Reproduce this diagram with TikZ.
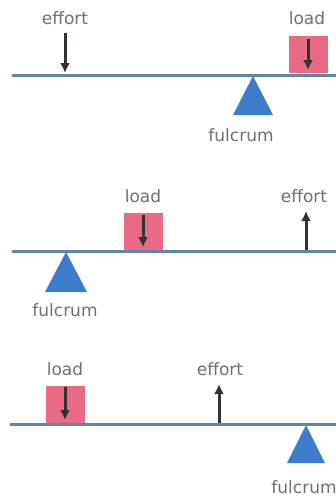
\documentclass[tikz,border=0pt]{standalone}
\usepackage{fontspec}
\setmainfont{DejaVu Sans}
\usetikzlibrary{arrows.meta}
\definecolor{beamc}{HTML}{5F84AE}
\definecolor{loadc}{HTML}{E96A84}
\definecolor{fulc}{HTML}{3D7CCB}
\definecolor{txtc}{HTML}{707070}
\definecolor{arrc}{HTML}{2E3436}
\tikzset{
  lbl/.style={text=txtc, font=\fontsize{17}{19}\selectfont, inner sep=0pt, anchor=center},
  beam/.style={draw=beamc, line width=3pt},
  loadbox/.style={fill=loadc, draw=none, minimum width=39pt, minimum height=37pt, inner sep=0pt},
  force/.style={draw=arrc, line width=3pt, -{Latex[length=10pt,width=10pt]}},
  fulcrumtri/.style={fill=fulc, draw=none}
}
\begin{document}
\begin{tikzpicture}[x=1pt,y=-1pt]
\useasboundingbox (0,0) rectangle (336,496);
% ---------- panel 1 ----------
\coordinate (b1l) at (12,75);
\coordinate (b1r) at (336,75);
\draw[beam] (b1l) -- (b1r);
\node[lbl] (eff1) at (65,18) {effort};
\coordinate (eff1top) at (65,33);
\coordinate (eff1tip) at (65,73);
\draw[force] (eff1top) -- (eff1tip);
\node[lbl] (load1) at (307,18) {load};
\node[loadbox] (box1) at (308,54) {};
\coordinate (box1a) at (308,39);
\coordinate (box1b) at (308,70);
\draw[force] (box1a) -- (box1b);
\coordinate (f1) at (253,76);
\fill[fulcrumtri] (f1) -- (233,115) -- (273,115) -- cycle;
\node[lbl] (fl1) at (241,135) {fulcrum};
% ---------- panel 2 ----------
\coordinate (b2l) at (12,251);
\coordinate (b2r) at (336,251);
\draw[beam] (b2l) -- (b2r);
\node[lbl] (load2) at (143,196) {load};
\node[loadbox] (box2) at (143.5,231) {};
\coordinate (box2a) at (143,215);
\coordinate (box2b) at (143,247);
\draw[force] (box2a) -- (box2b);
\node[lbl] (eff2) at (304,196) {effort};
\coordinate (eff2base) at (306,250);
\coordinate (eff2tip) at (306,211);
\draw[force] (eff2base) -- (eff2tip);
\coordinate (f2) at (66,252);
\fill[fulcrumtri] (f2) -- (45,292) -- (87,292) -- cycle;
\node[lbl] (fl2) at (65,310) {fulcrum};
% ---------- panel 3 ----------
\coordinate (b3l) at (10,424);
\coordinate (b3r) at (336,424);
\draw[beam] (b3l) -- (b3r);
\node[lbl] (load3) at (65,369) {load};
\node[loadbox] (box3) at (65.5,404) {};
\coordinate (box3a) at (65,387);
\coordinate (box3b) at (65,420);
\draw[force] (box3a) -- (box3b);
\node[lbl] (eff3) at (220,369) {effort};
\coordinate (eff3base) at (219,423);
\coordinate (eff3tip) at (219,384);
\draw[force] (eff3base) -- (eff3tip);
\coordinate (f3) at (306,425);
\fill[fulcrumtri] (f3) -- (287,463) -- (325,463) -- cycle;
\node[lbl] (fl3) at (304,487) {fulcrum};
\end{tikzpicture}
\end{document}
